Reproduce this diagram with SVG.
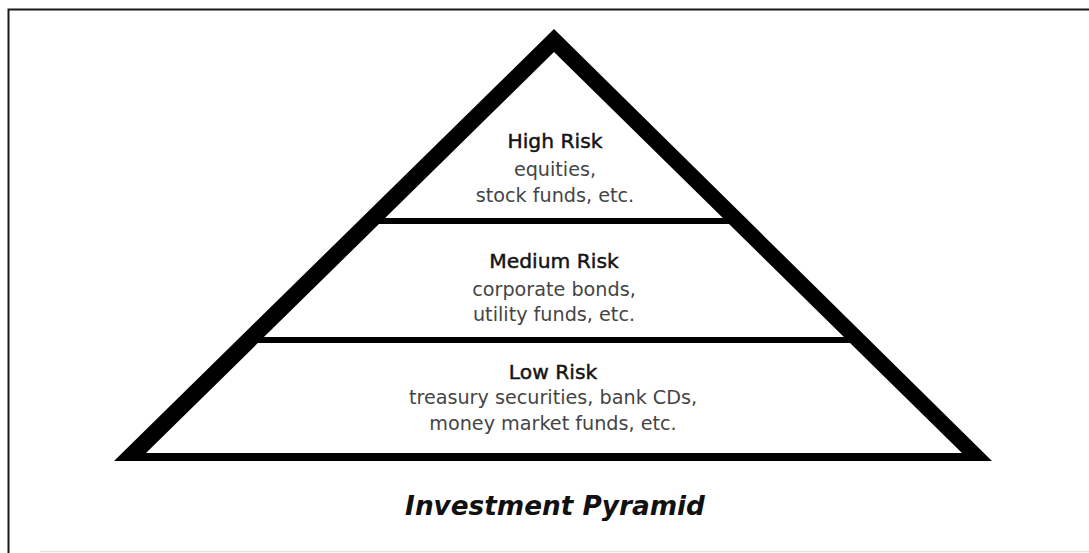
<svg xmlns="http://www.w3.org/2000/svg" width="1089" height="553" viewBox="0 0 1089 553">
  <style>
    .frame { stroke: #1a1a1a; stroke-width: 2; fill: none; }
    .head { font-family: "DejaVu Sans", "Liberation Sans", sans-serif; font-size: 20.3px; fill: #141414; stroke: #141414; stroke-width: 0.45; text-anchor: middle; }
    .body { font-family: "DejaVu Sans", "Liberation Sans", sans-serif; font-size: 19.2px; fill: #454545; text-anchor: middle; }
    .title { font-family: "DejaVu Sans", "Liberation Sans", sans-serif; font-size: 26.3px; font-weight: bold; font-style: italic; fill: #111; text-anchor: middle; }
    .bar { fill: #000; }
  </style>

  <rect width="1089" height="553" fill="#fff"/>

  <!-- page frame: top and left rules, faint bottom edge -->
  <g id="frame">
    <path class="frame" d="M8.5 553 V9.5 H1089"/>
    <line x1="40" y1="551.5" x2="1089" y2="551.5" stroke="#e2e2e2" stroke-width="1.5"/>
  </g>

  <!-- pyramid outline with two tier dividers -->
  <g id="pyramid">
    <path class="bar" fill-rule="evenodd" d="M554 29 L992 461 L114 461 Z M554 52 L146 453 L962 453 Z"/>
    <rect class="bar" x="370" y="218" width="368" height="6"/>
    <rect class="bar" x="249" y="337" width="610" height="6"/>
  </g>

  <g id="connectors"></g>

  <g id="tier-high">
    <text class="head" x="555" y="148">High Risk</text>
    <text class="body" x="555" y="176">equities,</text>
    <text class="body" x="555" y="202">stock funds, etc.</text>
  </g>

  <g id="tier-medium">
    <text class="head" x="554" y="268">Medium Risk</text>
    <text class="body" x="554" y="296">corporate bonds,</text>
    <text class="body" x="554" y="321">utility funds, etc.</text>
  </g>

  <g id="tier-low">
    <text class="head" x="553" y="379">Low Risk</text>
    <text class="body" x="553" y="404">treasury securities, bank CDs,</text>
    <text class="body" x="553" y="430">money market funds, etc.</text>
  </g>

  <g id="title">
    <text class="title" x="555" y="515">Investment Pyramid</text>
  </g>
</svg>
